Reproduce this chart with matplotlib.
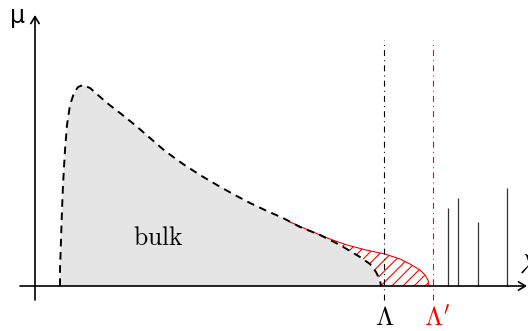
import matplotlib
matplotlib.use("Agg")
import matplotlib.pyplot as plt

plt.rcParams['mathtext.fontset'] = 'cm'
plt.rcParams['lines.scale_dashes'] = False
plt.rcParams['hatch.linewidth'] = 0.8

# bulk density (dashed outline), heights above the lambda axis
bulk_x = [60, 60, 61, 62, 63, 65, 67, 70, 74, 78, 83, 90, 98, 107, 120, 135, 150,
          165, 183, 200, 217, 233, 250, 267, 283, 300, 320, 340, 360, 370, 376, 380, 381]
bulk_h = [0, 16, 46, 76, 101, 136, 161, 181, 193, 199, 201, 198, 191, 183, 173, 161, 148,
          135, 122, 111, 101, 92, 83, 75, 68, 59, 51, 41, 29, 22, 14, 6, 0]

# perturbed edge (red), starts where it leaves the bulk curve
red_x = [290, 313, 330, 347, 366, 385, 400, 410, 420, 425, 428, 429]
red_h = [64, 54, 47, 41, 36, 32, 27, 22, 16, 11, 6, 0]

# outliers
spike_x = [448, 458, 478, 507]
spike_h = [78, 88, 64, 98]

Lam = 384
Lam2 = 433

fig = plt.figure(figsize=(5.28, 3.31), dpi=100)
ax = fig.add_axes([0, 0, 1, 1])
ax.set_xlim(0, 528)
ax.set_ylim(-45, 286)
ax.axis('off')

# gray bulk
ax.fill(bulk_x, bulk_h, color='#e5e5e5', lw=0, zorder=1)

# red hatched region between the two curves
px = list(red_x)
ph = list(red_h)
for x, h in zip(bulk_x[::-1], bulk_h[::-1]):
    if x >= red_x[0]:
        px.append(x)
        ph.append(h)
ax.fill(px, ph, facecolor='none', edgecolor='red', hatch='///', lw=0, zorder=2)
ax.plot(red_x, red_h, color='red', lw=0.8, zorder=3)

ax.plot(bulk_x, bulk_h, color='black', lw=1.4, dashes=(5.5, 4.0), zorder=4)

# axes with arrows
arr = dict(arrowstyle='->, head_length=0.5, head_width=0.3', lw=1.2, color='black',
           shrinkA=0, shrinkB=0)
ax.annotate('', xy=(527, 0), xytext=(20, 0), arrowprops=arr, zorder=5)
ax.annotate('', xy=(35, 271), xytext=(35, -14), arrowprops=arr, zorder=5)

# cut-offs
ax.plot([Lam, Lam], [-14, 246], color='black', lw=0.8, dashes=(4.3, 3.0, 0.7, 3.0), zorder=3)
ax.plot([Lam2, Lam2], [-14, 246], color='red', lw=0.8, dashes=(4.3, 3.0, 0.7, 3.0), zorder=3)

ax.vlines(spike_x, 0, spike_h, color='#333333', lw=0.9, zorder=3)

ax.text(17, 270, 'μ', fontsize=17, ha='center', va='center', family='DejaVu Sans')
ax.text(519, 20, r'$\lambda$', fontsize=19, ha='left', va='center')
ax.text(158, 48, r'$\mathrm{bulk}$', fontsize=18.5, ha='center', va='center')
ax.text(Lam + 1, -32, r'$\Lambda$', fontsize=19, ha='center', va='center')
ax.text(Lam2 + 4, -32, r"$\Lambda'$", fontsize=19, ha='center', va='center', color='red')

fig.savefig('out.png', dpi=100)
